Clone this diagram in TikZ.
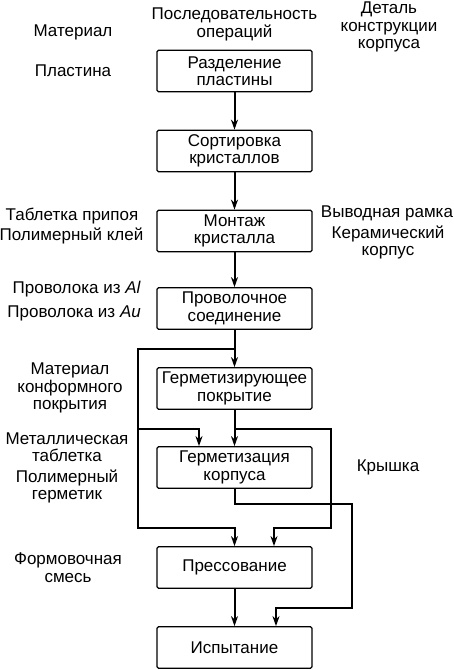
\documentclass[tikz,border=0pt]{standalone}
\usepackage{fontspec}
\setmainfont{Liberation Sans}
\usetikzlibrary{arrows.meta}
\newcommand{\myfs}{\fontsize{17}{17.5}\selectfont}
\begin{document}
\begin{tikzpicture}[x=1pt,y=-1pt,
  box/.style={draw, line width=1.3pt, rounded corners=1.5pt, minimum width=155pt, minimum height=41.5pt, align=center, inner sep=0pt, font=\myfs},
  lbl/.style={align=center, inner sep=0pt, font=\myfs},
  conn/.style={line width=2pt, -{Stealth[length=10pt,width=7pt]}},
  ln/.style={line width=2pt}]
\useasboundingbox (0,0) rectangle (454,670);
% boxes
\node[box] (b1) at (234.5,71) {Разделение\\пластины};
\node[box] (b2) at (234.5,151) {Сортировка\\кристаллов};
\node[box] (b3) at (234.5,231) {Монтаж\\кристалла};
\node[box] (b4) at (234.5,308.5) {Проволочное\\соединение};
\node[box] (b5) at (234.5,388.5) {Герметизирующее\\покрытие};
\node[box] (b6) at (234.5,467.5) {Герметизация\\корпуса};
\node[box] (b7) at (234.5,567.5) {Прессование};
\node[box] (b8) at (234.5,647.5) {Испытание};
% labels
\node[lbl] (mat) at (73,32) {Материал};
\node[lbl] (seq) at (234.5,24.5) {Последовательность\\операций};
\node[lbl] (det) at (389,27) {Деталь\\конструкции\\корпуса};
\node[lbl] (pl) at (73,71) {Пластина};
\node[lbl] (tp) at (72,216) {Таблетка припоя};
\node[lbl] (pk) at (71.5,236) {Полимерный клей};
\node[lbl] (vr) at (387,213) {Выводная рамка};
\node[lbl] (kk) at (388,242.5) {Керамический\\корпус};
\node[lbl,anchor=east] (pal) at (141,289) {Проволока из \textit{Al}};
\node[lbl,anchor=east] (pau) at (141,313) {Проволока из \textit{Au}};
\node[lbl] (mk) at (70,388) {Материал\\конформного\\покрытия};
\node[lbl] (mt) at (67,447) {Металлическая\\таблетка};
\node[lbl] (pg) at (67,486.5) {Полимерный\\герметик};
\node[lbl] (kr) at (388,467) {Крышка};
\node[lbl] (fs) at (68,567.5) {Формовочная\\смесь};
% junction coordinates
\coordinate (L1) at (138,349);
\coordinate (L2) at (138,528);
\coordinate (M1) at (138,429);
\coordinate (R0) at (234.5,429);
\coordinate (R1) at (331,429);
\coordinate (R2) at (331,528);
\coordinate (S1) at (352,504);
\coordinate (S2) at (352,607.5);
% connectors
\draw[conn] (b1) -- (b2);
\draw[conn] (b2) -- (b3);
\draw[conn] (b3) -- (b4);
\draw[conn] (b4) -- (b5);
\draw[conn] (b5) -- (b6);
\draw[conn] (b7) -- (b8);
\draw[conn] (b4.south) |- (L1) -- (L2) -| (b7.north);
\draw[conn] (M1) -| ([xshift=-35.5pt]b6.north);
\draw[conn] (R0) -- (R1) -- (R2) -| ([xshift=39.5pt]b7.north);
\draw[conn] (b6.south) |- (S1) -- (S2) -| ([xshift=41.5pt]b8.north);
\end{tikzpicture}
\end{document}
